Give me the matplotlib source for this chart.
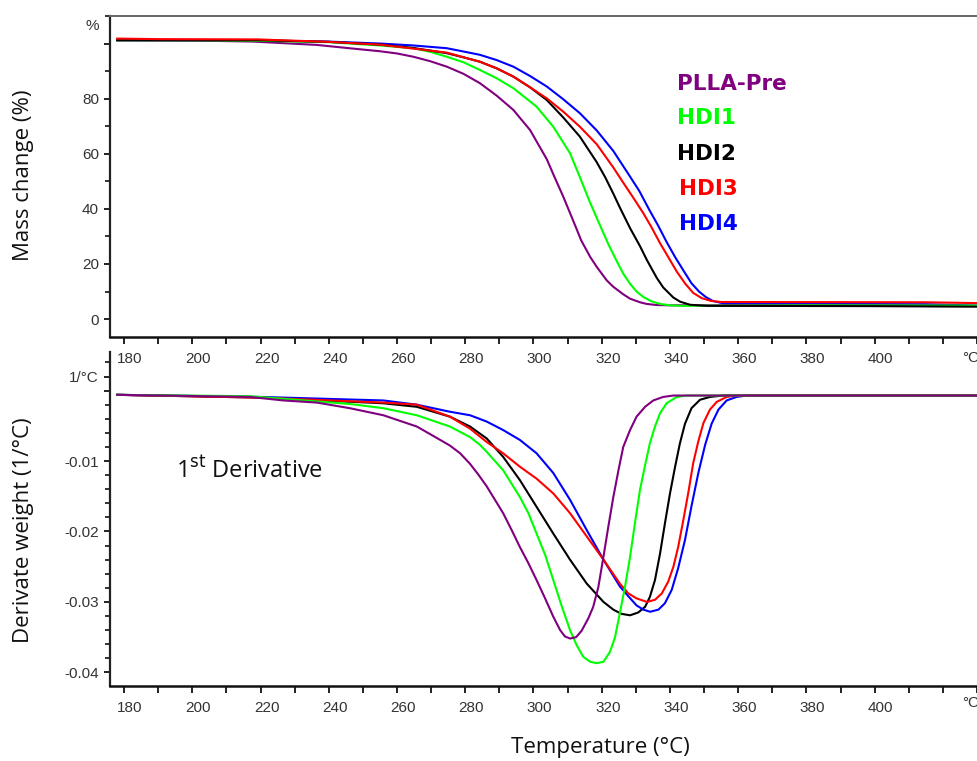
import matplotlib
matplotlib.use('Agg')
import matplotlib.pyplot as plt
from matplotlib.transforms import ScaledTranslation, blended_transform_factory
from matplotlib.ticker import FixedLocator, MultipleLocator

# ---------------- data ----------------
names = ['PLLA-Pre', 'HDI1', 'HDI2', 'HDI3', 'HDI4']
colors = ['#800080', '#00ff00', '#000000', '#ff0000', '#0000ff']

# TG curves: temperature (°C) and mass (%)
tg_T_plla = [178, 200, 218, 236.5, 246, 255, 260, 264.8, 269.7, 274.6, 279.5, 284.3, 289.2,
             294.1, 299.0, 303.9, 306.0, 308.7, 311.7, 314.0, 316.6, 318.5, 321.5, 323.4, 326.3,
             328.3, 331.2, 333.2, 336.1, 340, 360, 400, 430]
tg_m_plla = [101.2, 101.1, 100.7, 99.5, 98.3, 97.2, 96.4, 95.2, 93.6, 91.6, 89.0, 85.6, 81.1,
             75.9, 68.6, 58.0, 52.0, 44.5, 35.5, 28.5, 22.6, 19.0, 14.0, 11.7, 9.0,
             7.4, 6.1, 5.5, 5.1, 5.0, 5.0, 4.9, 4.8]
tg_T_hdi1 = [178, 200, 220, 240, 255, 264.8, 269.7, 274.6, 279.5, 284.3, 289.2, 294.1, 300.9,
             305.8, 310.7, 313.6, 316.5, 319.5, 322.0, 324.4, 326.3, 328.3, 330.2, 332.2, 334.5,
             337.1, 340, 343, 380, 430]
tg_m_hdi1 = [101.2, 101.2, 101.0, 100.5, 99.3, 98.3, 97.0, 95.2, 93.2, 90.4, 87.4, 83.8, 77.1,
             69.8, 60.2, 51.5, 42.5, 34.0, 27.0, 21.0, 16.5, 12.8, 10.0, 8.0, 6.5,
             5.5, 5.0, 4.8, 5.0, 4.9]
tg_T_hdi2 = [178, 220, 240, 255, 264.8, 274.6, 279.5, 284.3, 289.2, 294.1, 299.0, 303.9, 308.7,
             313.6, 318.5, 321.0, 323.4, 325.3, 328.3, 331.2, 333.2, 336.1, 338.0, 341.0, 343.0,
             345.9, 350.8, 360, 400, 430]
tg_m_hdi2 = [101.2, 101.2, 100.6, 99.6, 98.4, 96.5, 95.0, 93.4, 91.0, 88.0, 84.1, 79.5, 73.2,
             66.2, 57.0, 51.5, 45.5, 40.5, 33.0, 26.5, 21.5, 15.0, 11.5, 7.8, 6.3,
             5.2, 4.8, 4.8, 4.7, 4.5]
tg_T_hdi3 = [178, 190, 219, 240, 255, 274.6, 279.5, 284.3, 289.2, 294.1, 299.0, 303.9, 308.7,
             313.6, 318.5, 323.4, 326.3, 329.0, 332.2, 334.5, 337.1, 339.5, 342.0, 344.5, 346.8,
             349.3, 352.0, 355, 415, 430]
tg_m_hdi3 = [101.8, 101.6, 101.5, 100.6, 99.6, 96.7, 95.0, 93.4, 91.0, 88.0, 84.1, 80.1, 75.3,
             69.8, 63.5, 55.0, 49.5, 44.5, 38.4, 33.5, 27.5, 22.5, 17.2, 12.8, 9.5,
             7.6, 6.6, 6.2, 6.1, 5.8]
tg_T_hdi4 = [178, 220, 240, 255, 264.8, 274.6, 279.5, 284.3, 289.2, 294.1, 299.0, 303.9, 308.7,
             313.6, 318.5, 323.4, 328.3, 331.0, 334.0, 336.5, 339.0, 341.5, 344.0, 346.3, 348.5,
             350.5, 352.5, 356, 415, 430]
tg_m_hdi4 = [101.2, 101.1, 100.7, 100.0, 99.3, 98.3, 97.1, 95.9, 94.0, 91.6, 88.2, 84.4, 79.8,
             74.7, 68.5, 61.0, 51.7, 46.5, 39.5, 34.0, 28.0, 22.5, 17.5, 13.0, 10.0,
             8.0, 6.6, 5.6, 5.4, 4.9]

# DTG curves: temperature (°C) and derivative (1/°C)
dtg_T_plla = [178, 216.9, 226.7, 236.5, 246.2, 256.0, 265.8, 270.5, 275.5, 278.5, 281.4, 283.8,
              286.3, 288.7, 291.1, 293.6, 296.0, 298.5, 300.9, 303.4, 305.8, 307.8, 309.2, 310.7,
              312.5, 314.1, 316.1, 317.5, 319.0, 320.5, 321.9, 323.4, 324.9, 326.3, 328.3, 330.2,
              332.7, 335.1, 338.0, 341.0, 360, 430]
dtg_d_plla = [-0.0006, -0.0009, -0.0014, -0.0017, -0.0025, -0.0035, -0.0051, -0.0064, -0.0078,
              -0.0089, -0.0104, -0.0119, -0.0136, -0.0155, -0.0174, -0.0198, -0.0222, -0.0245,
              -0.0269, -0.0295, -0.0321, -0.0340, -0.0349, -0.0352, -0.0350, -0.0341, -0.0323,
              -0.0307, -0.0279, -0.0236, -0.0194, -0.0151, -0.0113, -0.0080, -0.0056, -0.0037,
              -0.0023, -0.0014, -0.0009, -0.0007, -0.0007, -0.0007]
dtg_T_hdi1 = [178, 216.9, 246.2, 256.0, 265.8, 275.5, 281.4, 284.3, 286.3, 291.1, 296.0, 298.5,
              300.9, 303.4, 305.8, 308.2, 310.7, 312.6, 314.6, 316.6, 318.5, 320.5, 322.4, 323.9,
              325.3, 326.8, 328.3, 329.7, 331.2, 332.7, 334.1, 335.6, 337.1, 339.0, 342.0, 344.9,
              370, 430]
dtg_d_hdi1 = [-0.0006, -0.0008, -0.0019, -0.0025, -0.0035, -0.0051, -0.0066, -0.0077, -0.0087,
              -0.0113, -0.0151, -0.0174, -0.0203, -0.0233, -0.0269, -0.0305, -0.0340, -0.0361,
              -0.0378, -0.0385, -0.0387, -0.0385, -0.0371, -0.0350, -0.0316, -0.0279, -0.0236,
              -0.0189, -0.0141, -0.0106, -0.0075, -0.0051, -0.0032, -0.0018, -0.0009, -0.0007,
              -0.0007, -0.0007]
dtg_T_hdi2 = [178, 220, 256.0, 265.8, 275.5, 281.4, 286.3, 291.1, 296.0, 300.9, 305.8, 310.7,
              315.6, 320.5, 323.4, 325.8, 328.3, 330.7, 332.7, 334.1, 335.6, 337.1, 338.5, 340.0,
              341.5, 342.9, 344.4, 346.3, 348.8, 351.7, 355.6, 380, 430]
dtg_d_hdi2 = [-0.0006, -0.0010, -0.0018, -0.0023, -0.0037, -0.0051, -0.0068, -0.0094, -0.0127,
              -0.0165, -0.0203, -0.0240, -0.0274, -0.0300, -0.0311, -0.0317, -0.0319, -0.0315,
              -0.0307, -0.0293, -0.0269, -0.0231, -0.0189, -0.0146, -0.0108, -0.0075, -0.0047,
              -0.0025, -0.0013, -0.0009, -0.0007, -0.0007, -0.0007]
dtg_T_hdi3 = [178, 220, 256.0, 265.8, 275.5, 281.4, 286.3, 291.1, 296.0, 300.9, 305.8, 310.7,
              315.6, 320.5, 325.3, 327.8, 330.2, 333.2, 335.6, 337.6, 339.5, 341.0, 342.4, 343.9,
              345.4, 346.8, 348.3, 349.8, 351.7, 353.7, 356.6, 359.5, 380, 430]
dtg_d_hdi3 = [-0.0006, -0.0010, -0.0017, -0.0020, -0.0037, -0.0054, -0.0073, -0.0089, -0.0108,
              -0.0125, -0.0146, -0.0174, -0.0207, -0.0240, -0.0274, -0.0288, -0.0295, -0.0300,
              -0.0297, -0.0288, -0.0271, -0.0250, -0.0222, -0.0184, -0.0144, -0.0103, -0.0072,
              -0.0046, -0.0027, -0.0016, -0.0009, -0.0007, -0.0007, -0.0007]
dtg_T_hdi4 = [178, 220, 256.0, 265.8, 275.5, 281.4, 286.3, 291.1, 296.0, 300.9, 305.8, 310.7,
              315.6, 320.5, 325.3, 327.8, 330.2, 332.2, 334.2, 336.6, 338.5, 340.5, 342.4, 344.4,
              346.3, 348.3, 350.3, 352.2, 354.2, 356.6, 359.5, 362.5, 380, 430]
dtg_d_hdi4 = [-0.0006, -0.0009, -0.0014, -0.0020, -0.0030, -0.0035, -0.0044, -0.0056, -0.0070,
              -0.0089, -0.0117, -0.0155, -0.0198, -0.0240, -0.0278, -0.0292, -0.0305, -0.0311,
              -0.0314, -0.0311, -0.0302, -0.0283, -0.0252, -0.0212, -0.0164, -0.0117, -0.0077,
              -0.0047, -0.0027, -0.0014, -0.0009, -0.0007, -0.0007, -0.0007]

x_ticks = [180, 200, 220, 240, 260, 280, 300, 320, 340, 360, 380, 400]
x_tick_labels = ['180', '200', '220', '240', '260', '280', '300', '320', '340', '360', '380', '400']
tg_ticks = [0, 20, 40, 60, 80, 100]
tg_tick_labels = ['0', '20', '40', '60', '80', '']
dtg_ticks = [0.002, 0.0, -0.01, -0.02, -0.03, -0.04]
dtg_tick_labels = ['1/\u00b0C', '', '-0.01', '-0.02', '-0.03', '-0.04']

tg_T = [tg_T_plla, tg_T_hdi1, tg_T_hdi2, tg_T_hdi3, tg_T_hdi4]
tg_m = [tg_m_plla, tg_m_hdi1, tg_m_hdi2, tg_m_hdi3, tg_m_hdi4]
dtg_T = [dtg_T_plla, dtg_T_hdi1, dtg_T_hdi2, dtg_T_hdi3, dtg_T_hdi4]
dtg_d = [dtg_d_plla, dtg_d_hdi1, dtg_d_hdi2, dtg_d_hdi3, dtg_d_hdi4]

# ---------------- figure ----------------
W, H = 978, 761
fig = plt.figure(figsize=(W / 100, H / 100), dpi=100)


def rect(l, t, r, b):
    return [l / W, 1 - b / H, (r - l) / W, (b - t) / H]


ax1 = fig.add_axes(rect(109.5, 15.7, 978, 337))
ax2 = fig.add_axes(rect(109.5, 352, 978, 686))
ax2.patch.set_visible(False)
ax1.set_zorder(2)
ax1.patch.set_visible(False)

XMIN, XMAX = 175.75, 430.26
tick_font = dict(family='Liberation Sans', size=11, color='#333333')
lab_font = dict(family='Open Sans', size=16, color='#111111')

lw = 1.5
for i in [4, 0, 1, 2, 3]:
    ax1.plot(tg_T[i], tg_m[i], color=colors[i], lw=lw, solid_joinstyle='round')
for i in [2, 4, 3, 1, 0]:
    ax2.plot(dtg_T[i], dtg_d[i], color=colors[i], lw=lw, solid_joinstyle='round')

ax1.set_xlim(XMIN, XMAX)
ax2.set_xlim(XMIN, XMAX)
ax1.set_ylim(-6.5, 110.1)
ax2.set_ylim(-0.04194, 0.00548)

for ax in (ax1, ax2):
    ax.spines['right'].set_visible(False)
    ax.spines['left'].set_color('#222222')
    ax.spines['left'].set_linewidth(1.6)
    ax.spines['bottom'].set_color('#111111')
    ax.spines['bottom'].set_linewidth(1.8)
    ax.xaxis.set_major_locator(FixedLocator(x_ticks))
    ax.set_xticklabels(x_tick_labels, **tick_font)
    ax.xaxis.set_minor_locator(MultipleLocator(10))
    ax.tick_params(axis='x', which='both', direction='out', length=5, width=1.3,
                   color='#111111', pad=6)
    ax.tick_params(axis='y', which='major', direction='out', length=4.5, width=1.3,
                   color='#111111', pad=3)
    ax.tick_params(axis='y', which='minor', direction='out', length=3.5, width=1.2,
                   color='#111111')
    for lab in ax.get_xticklabels():
        lab.set_transform(lab.get_transform() + ScaledTranslation(0.06, 0, fig.dpi_scale_trans))

ax1.spines['top'].set_color('#666666')
ax1.spines['top'].set_linewidth(1.4)
ax2.spines['top'].set_visible(False)

ax1.yaxis.set_major_locator(FixedLocator(tg_ticks))
ax1.set_yticklabels(tg_tick_labels, **tick_font)
ax1.yaxis.set_minor_locator(MultipleLocator(10))

ax2.yaxis.set_major_locator(FixedLocator(dtg_ticks))
ax2.set_yticklabels(dtg_tick_labels, **tick_font)
ax2.yaxis.set_minor_locator(MultipleLocator(0.002))

# unit labels
tr1 = blended_transform_factory(ax1.transAxes, ax1.transData)
ax1.text(-0.012, 106.4, '%', transform=tr1, ha='right', va='center', **tick_font)
for ax, yy in ((ax1, -0.064), (ax2, -0.052)):
    trx = blended_transform_factory(ax.transData, ax.transAxes)
    ax.text(425.6, yy, '\u00b0C', transform=trx, ha='left', va='center', clip_on=False,
            **tick_font)

# axis labels
fig.text(24 / W, 1 - 175 / H, 'Mass change (%)', rotation=90, ha='center', va='center', **lab_font)
fig.text(24 / W, 1 - 530 / H, 'Derivate weight (1/\u00b0C)', rotation=90, ha='center',
         va='center', **lab_font)
fig.text(600 / W, 1 - 748 / H, 'Temperature (\u00b0C)', ha='center', va='center', **lab_font)

# annotation in lower panel
fig.text(176 / W, 1 - 478 / H, r'1$^{\mathrm{st}}$ Derivative', ha='left', va='baseline',
         family='Open Sans', size=17, color='#111111')

# legend labels as coloured text
leg_y = [84, 118, 154, 189, 224]
leg_x = [677, 677, 677, 679, 679]
for i in range(5):
    fig.text(leg_x[i] / W, 1 - leg_y[i] / H, names[i], color=colors[i], ha='left', va='center',
             family='DejaVu Sans', weight='bold', size=15.5)

fig.savefig('out.png', dpi=100)
